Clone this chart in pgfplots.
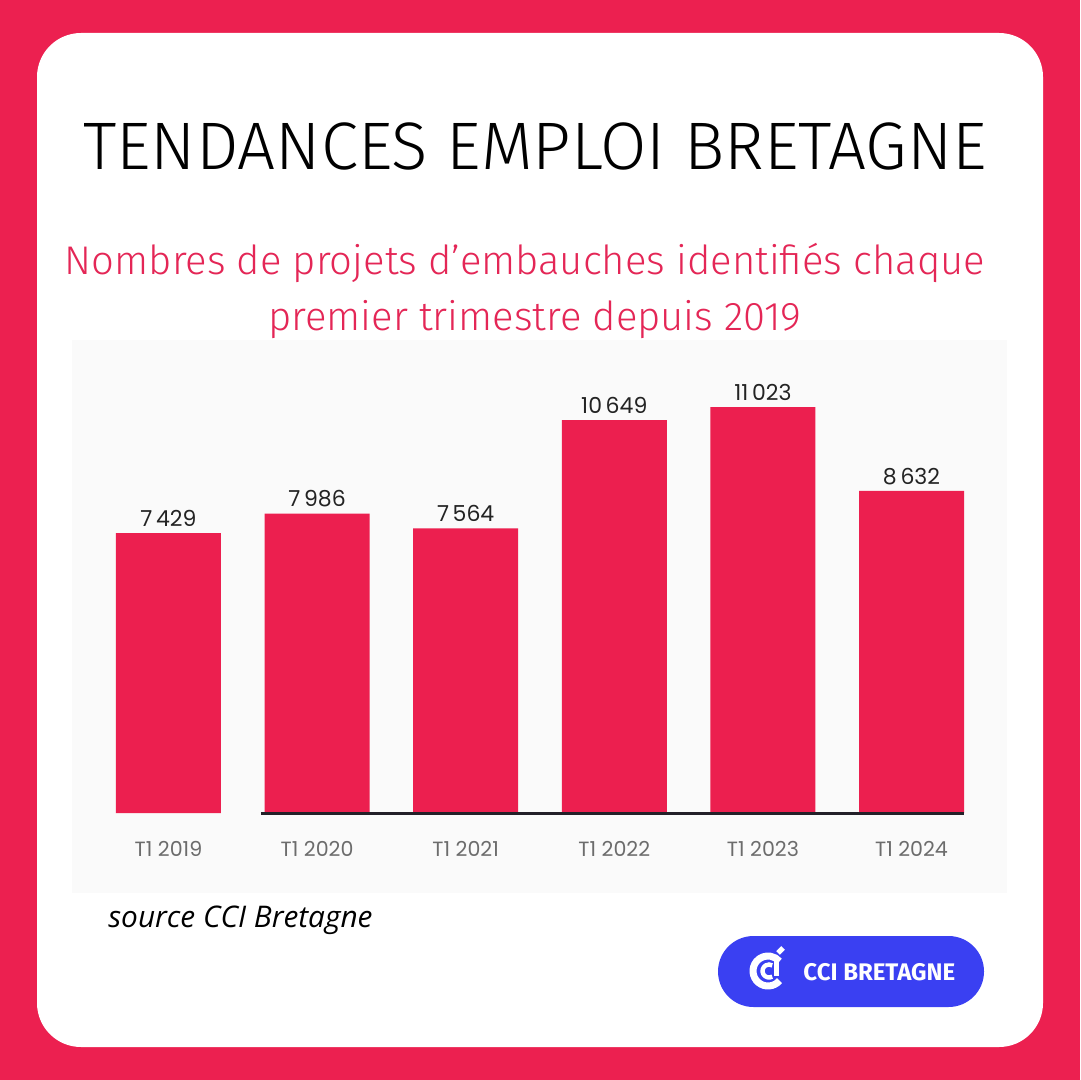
\documentclass[border=0pt]{standalone}
\usepackage{pgfplots}
\pgfplotsset{compat=1.18}
\usepackage{fontspec}
\IfFontExistsTF{Fira Sans Light}
  {\newfontfamily\lightfont{Fira Sans Light}}
  {\IfFontExistsTF{Lato Light}
     {\newfontfamily\lightfont{Lato Light}}
     {\newfontfamily\lightfont{Fira Sans}}}
\newfontfamily\labelfont{Poppins}
\newfontfamily\srcfont{Open Sans}
\newfontfamily\btnfont{Fira Sans}

\definecolor{bgpink}{RGB}{236,32,80}
\definecolor{barpink}{RGB}{236,31,79}
\definecolor{subpink}{RGB}{228,38,86}
\definecolor{btnblue}{RGB}{58,64,242}
\definecolor{tickgray}{RGB}{108,108,108}
\definecolor{labdark}{RGB}{35,35,35}
\definecolor{panel}{RGB}{250,250,250}
\definecolor{axisdark}{RGB}{35,32,40}

\begin{document}
\begin{tikzpicture}[x=0.5pt,y=-0.5pt]
\path[use as bounding box] (0,0) rectangle (1080,1080);
\fill[bgpink] (0,0) rectangle (1080,1080);
\fill[white, rounded corners=22pt] (37,33) rectangle (1043,1047);

% titles
\node[anchor=base, inner sep=0] at (535,170)
  {\lightfont\fontsize{33.6}{36}\selectfont TENDANCES EMPLOI BRETAGNE};
\node[anchor=base, inner sep=0, text=subpink] at (525,275)
  {\lightfont\fontsize{20}{22}\selectfont Nombres de projets d’embauches identifiés chaque};
\node[anchor=base, inner sep=0, text=subpink] at (535,330)
  {\lightfont\fontsize{20}{22}\selectfont premier trimestre depuis 2019};

% chart panel
\fill[panel] (72,340) rectangle (1007,893);

\begin{axis}[
    at={(39.65pt,-406.5pt)}, anchor=south west,
    scale only axis,
    width=460.7pt, height=236.5pt,
    xmin=-0.6, xmax=5.6,
    ymin=0, ymax=13491,
    axis line style={draw=none},
    tick style={draw=none},
    ytick=\empty,
    xtick=data,
    xticklabels={T1 2019, T1 2020, T1 2021, T1 2022, T1 2023, T1 2024},
    xticklabel style={font=\labelfont\fontsize{10.3}{11}\selectfont, text=tickgray, yshift=-6.5pt},
    ybar, bar width=52.5pt,
    y filter/.expression={y+556},
    point meta=rawy,
    nodes near coords={\pgfmathprintnumber[assume math mode=true,1000 sep={\,}]{\pgfplotspointmeta}},
    nodes near coords style={font=\labelfont\fontsize{11}{12}\selectfont, text=labdark, anchor=south, inner sep=0pt, yshift=3pt},
    clip=false,
]
\addplot[fill=barpink, draw=none] coordinates {
    (0,7429) (1,7986) (2,7564) (3,10649) (4,11023) (5,8632)
};
\draw[line width=1.5pt, axisdark] (axis cs:0.622,0) -- (axis cs:5.353,0);
\end{axis}

% source
\node[anchor=base west, inner sep=0] at (108,927)
  {\srcfont\itshape\fontsize{14.9}{16}\selectfont source CCI Bretagne};

% button
\fill[btnblue, rounded corners=17.75pt] (718,936) rectangle (984,1007);
\draw[white, line width=3.5pt] (768,971) ++(40:15) arc[start angle=40, end angle=320, radius=15];
\draw[white, line width=2.2pt] (769,971) ++(60:6.5) arc[start angle=60, end angle=300, radius=6.5];
\draw[white, line width=2.5pt] (776,960) -- (776,976);
\draw[white, line width=2.5pt] (778,953) -- (783,948);
\node[anchor=base west, inner sep=0, text=white] at (803,980)
  {\btnfont\bfseries\fontsize{12}{14}\selectfont CCI BRETAGNE};
\end{tikzpicture}
\end{document}
